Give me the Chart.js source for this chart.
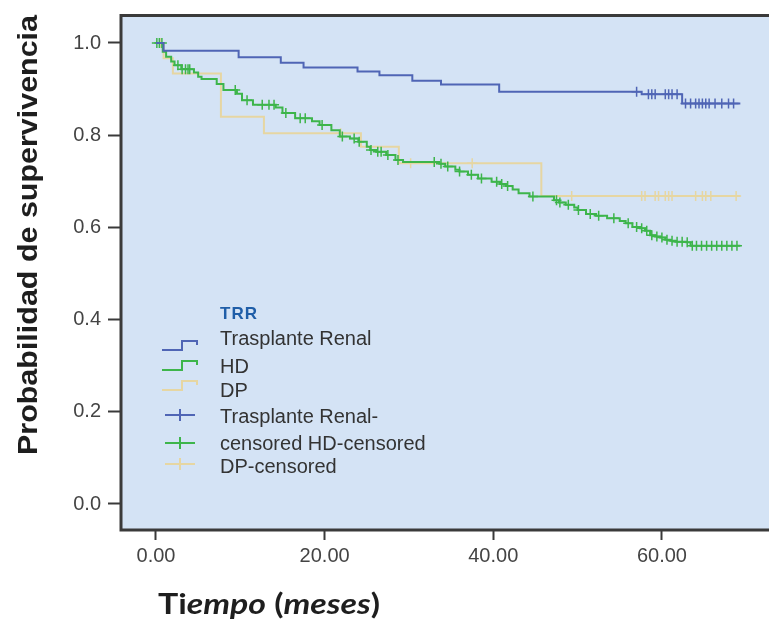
<!DOCTYPE html>
<html>
<head>
<meta charset="utf-8">
<script src="https://cdn.jsdelivr.net/npm/chart.js@4.4.1/dist/chart.umd.min.js"></script>
<style>
    html, body { margin: 0; padding: 0; background: #ffffff; }
    #wrap { width: 769px; height: 621px; }
</style>
</head>
<body>
<div id="wrap"><canvas id="chartCanvas" width="769" height="621"></canvas></div>
<script>
// Kaplan-Meier steps: time (meses) and survival probability
const trTimes = [0, 0.9, 9.8, 14.8, 17.5, 23.9, 26.5, 30.4, 33.8, 40.7, 57.6, 62.4, 69.3];
const trSurv  = [1.0, 0.983, 0.969, 0.957, 0.947, 0.938, 0.930, 0.918, 0.910, 0.894, 0.889, 0.869, 0.869];
const trCensored = [57.0, 58.4, 58.8, 59.2, 60.4, 60.8, 61.2, 61.8, 62.8, 63.4, 64.0, 64.4, 64.8,
    65.2, 65.6, 66.3, 67.1, 67.9, 68.5];

const hdTimes = [0, 0.8, 1.2, 1.8, 2.2, 3.0, 4.5, 5.0, 5.4, 7.2, 8.0, 9.6, 10.2, 11.5, 14.2, 15.0,
    16.5, 18.5, 19.4, 20.8, 21.8, 23.0, 24.0, 25.0, 25.4, 26.1, 27.3, 28.4, 29.3, 33.6, 34.3, 35.5,
    36.0, 37.0, 38.2, 39.8, 40.8, 41.5, 42.3, 43.0, 44.3, 47.2, 47.8, 48.6, 49.6, 50.0, 51.0, 52.2,
    53.5, 55.0, 55.7, 56.5, 57.4, 58.0, 58.6, 59.2, 59.8, 60.4, 61.0, 61.6, 62.9, 63.4, 69.3];
const hdSurv  = [1.0, 0.981, 0.970, 0.960, 0.952, 0.943, 0.936, 0.927, 0.922, 0.911, 0.898, 0.890,
    0.876, 0.866, 0.860, 0.848, 0.837, 0.830, 0.822, 0.811, 0.797, 0.793, 0.786, 0.775, 0.768, 0.764,
    0.757, 0.746, 0.742, 0.738, 0.732, 0.725, 0.721, 0.714, 0.706, 0.699, 0.694, 0.690, 0.682, 0.674,
    0.667, 0.659, 0.654, 0.649, 0.643, 0.638, 0.629, 0.625, 0.620, 0.614, 0.609, 0.601, 0.598, 0.593,
    0.583, 0.580, 0.578, 0.573, 0.571, 0.569, 0.568, 0.560, 0.560];
const hdCensored = [0.1, 0.4, 0.7, 2.6, 3.1, 3.5, 3.8, 4.0, 9.4, 10.8, 12.6, 13.4, 14.0, 15.4, 17.1,
    17.7, 19.7, 22.1, 23.5, 24.1, 25.5, 26.3, 26.7, 27.5, 28.7, 33.0, 33.8, 34.6, 36.0, 37.4, 38.6,
    40.4, 41.0, 41.7, 44.7, 47.5, 47.9, 48.9, 50.1, 51.5, 52.5, 54.3, 56.0, 57.0, 57.6, 58.2, 58.8,
    59.4, 60.0, 60.6, 61.2, 61.8, 62.4, 63.0, 63.6, 64.1, 64.7, 65.3, 65.9, 66.5, 67.1, 67.7, 68.3, 68.9];

const dpTimes = [0, 0.9, 2.0, 7.7, 12.8, 24.3, 28.8, 45.7, 69.3];
const dpSurv  = [1.0, 0.967, 0.934, 0.840, 0.804, 0.775, 0.739, 0.668, 0.668];
const dpCensored = [0.5, 21.9, 30.2, 37.5, 49.3, 57.6, 58.0, 59.2, 59.6, 60.4, 60.8, 61.2, 64.0,
    64.8, 65.2, 65.8, 68.8];

const xTicks = [0, 20, 40, 60];
const yTicks = [0, 0.2, 0.4, 0.6, 0.8, 1.0];

const legendTitle = "TRR";
const legendLabels = ["Trasplante Renal", "HD", "DP", "Trasplante Renal-", "censored HD-censored", "DP-censored"];
const xTitle = ["Ti", "empo", " (", "meses", ")"];
const yTitle = "Probabilidad de supervivencia";

const colors = { tr: "#4f65b5", hd: "#3db54b", dp: "#e6d6a2" };

function stepPoints(times, surv) {
    return times.map((t, i) => ({ x: t, y: surv[i] }));
}

// censor marks sit on the curve value at that time
function survivalAt(times, surv, t) {
    let s = surv[0];
    for (let i = 0; i < times.length; i++) {
        if (times[i] <= t) s = surv[i];
    }
    return s;
}

function censorPoints(times, surv, cTimes) {
    return cTimes.map(t => ({ x: t, y: survivalAt(times, surv, t) }));
}

function stepDataset(label, times, surv, color, order) {
    return {
        type: 'line',
        label: label,
        data: stepPoints(times, surv),
        borderColor: color,
        borderWidth: 2,
        stepped: 'before',
        pointRadius: 0,
        fill: false,
        order: order
    };
}

function censorDataset(label, times, surv, cTimes, color, order) {
    return {
        type: 'scatter',
        label: label,
        data: censorPoints(times, surv, cTimes),
        borderColor: color,
        backgroundColor: color,
        pointStyle: 'cross',
        pointRadius: 5,
        borderWidth: 1.5,
        order: order
    };
}

function drawLegend(ctx) {
    ctx.save();
    ctx.textBaseline = 'alphabetic';
    ctx.textAlign = 'left';

    ctx.font = 'bold 17px "Liberation Sans"';
    ctx.letterSpacing = '1px';
    ctx.fillStyle = '#1f5ea8';
    ctx.fillText(legendTitle, 220, 319);
    ctx.letterSpacing = '0px';

    const rows = [
        { base: 345, sym: 'step', y: 350, color: colors.tr },
        { base: 373, sym: 'step', y: 370, color: colors.hd },
        { base: 397, sym: 'step', y: 390, color: colors.dp },
        { base: 423, sym: 'cross', y: 415, color: colors.tr },
        { base: 450, sym: 'cross', y: 443, color: colors.hd },
        { base: 473, sym: 'cross', y: 464, color: colors.dp }
    ];

    ctx.font = '20px "Liberation Sans"';
    rows.forEach((r, i) => {
        ctx.strokeStyle = r.color;
        ctx.lineWidth = 2;
        ctx.beginPath();
        if (r.sym === 'step') {
            ctx.moveTo(162, r.y);
            ctx.lineTo(182, r.y);
            ctx.lineTo(182, r.y - 9);
            ctx.lineTo(197, r.y - 9);
            ctx.lineTo(197, r.y - 5);
        } else {
            ctx.moveTo(165, r.y);
            ctx.lineTo(195, r.y);
            ctx.moveTo(180, r.y - 6);
            ctx.lineTo(180, r.y + 6);
        }
        ctx.stroke();
        ctx.fillStyle = '#333333';
        ctx.fillText(legendLabels[i], 220, r.base);
    });
    ctx.restore();
}

function drawTitles(ctx) {
    ctx.save();
    ctx.fillStyle = '#1e1e1e';

    // y title, rotated
    ctx.font = 'bold 28px "Liberation Sans"';
    const w = ctx.measureText(yTitle).width;
    ctx.translate(37, 235);
    ctx.rotate(-Math.PI / 2);
    ctx.scale(440 / w, 1);
    ctx.textAlign = 'center';
    ctx.textBaseline = 'alphabetic';
    ctx.fillText(yTitle, 0, 0);
    ctx.restore();

    // x title with italic parts
    ctx.save();
    ctx.fillStyle = '#1e1e1e';
    ctx.textBaseline = 'alphabetic';
    ctx.textAlign = 'left';
    const fonts = xTitle.map((s, i) => (i % 2 === 1 ? 'italic ' : '') + 'bold 29px Lato');
    let total = 0;
    xTitle.forEach((s, i) => { ctx.font = fonts[i]; total += ctx.measureText(s).width; });
    const k = 222 / total;
    ctx.translate(158, 614);
    ctx.scale(k, 1);
    let x = 0;
    xTitle.forEach((s, i) => {
        ctx.font = fonts[i];
        ctx.fillText(s, x, 0);
        x += ctx.measureText(s).width;
    });
    ctx.restore();
}

const framePlugin = {
    id: 'framePlugin',
    beforeDraw(chart) {
        const { ctx, chartArea: a } = chart;
        ctx.save();
        ctx.fillStyle = '#ffffff';
        ctx.fillRect(0, 0, chart.width, chart.height);
        ctx.fillStyle = '#d4e3f5';
        ctx.fillRect(a.left, a.top, a.right - a.left, a.bottom - a.top);
        ctx.restore();
    },
    afterDraw(chart) {
        const { ctx, chartArea: a } = chart;
        ctx.save();
        ctx.strokeStyle = '#3a3a3a';
        ctx.lineWidth = 3;
        ctx.beginPath();
        ctx.moveTo(a.right, a.top + 1.5);
        ctx.lineTo(a.left, a.top + 1.5);
        ctx.lineTo(a.left, a.bottom);
        ctx.lineTo(a.right, a.bottom);
        ctx.stroke();
        ctx.restore();
        drawLegend(ctx);
        drawTitles(ctx);
    }
};

const ctx = document.getElementById('chartCanvas').getContext('2d');
const chartInstance = new Chart(ctx, {
    type: 'line',
    data: {
        datasets: [
            censorDataset('Trasplante Renal-censored', trTimes, trSurv, trCensored, colors.tr, 1),
            stepDataset('Trasplante Renal', trTimes, trSurv, colors.tr, 2),
            censorDataset('HD-censored', hdTimes, hdSurv, hdCensored, colors.hd, 3),
            stepDataset('HD', hdTimes, hdSurv, colors.hd, 4),
            censorDataset('DP-censored', dpTimes, dpSurv, dpCensored, colors.dp, 5),
            stepDataset('DP', dpTimes, dpSurv, colors.dp, 6)
        ]
    },
    options: {
        responsive: false,
        animation: false,
        layout: { autoPadding: false, padding: { top: 14, left: 0, right: 0, bottom: 0 } },
        plugins: {
            legend: { display: false },
            tooltip: { enabled: false }
        },
        scales: {
            x: {
                type: 'linear',
                min: -4.15,
                max: 72.7,
                afterBuildTicks: (scale) => { scale.ticks = xTicks.map(v => ({ value: v })); },
                afterFit: (scale) => {
                    scale.height = 91;
                    scale.paddingLeft = 0;
                    scale.paddingRight = 0;
                },
                grid: {
                    display: true,
                    drawOnChartArea: false,
                    tickLength: 10,
                    tickWidth: 2,
                    tickColor: '#3a3a3a',
                    color: '#3a3a3a'
                },
                border: { display: false },
                ticks: {
                    padding: 4,
                    color: '#444444',
                    font: { family: 'Liberation Sans', size: 20 },
                    maxRotation: 0,
                    callback: (v) => v.toFixed(2)
                }
            },
            y: {
                type: 'linear',
                min: -0.0564,
                max: 1.0629,
                afterBuildTicks: (scale) => { scale.ticks = yTicks.map(v => ({ value: v })); },
                afterFit: (scale) => {
                    scale.width = 121;
                    scale.paddingTop = 0;
                    scale.paddingBottom = 0;
                },
                grid: {
                    display: true,
                    drawOnChartArea: false,
                    tickLength: 13,
                    tickWidth: 2,
                    tickColor: '#3a3a3a',
                    color: '#3a3a3a'
                },
                border: { display: false },
                ticks: {
                    padding: 7,
                    color: '#444444',
                    font: { family: 'Liberation Sans', size: 20 },
                    callback: (v) => v.toFixed(1)
                }
            }
        }
    },
    plugins: [framePlugin]
});
</script>
</body>
</html>
